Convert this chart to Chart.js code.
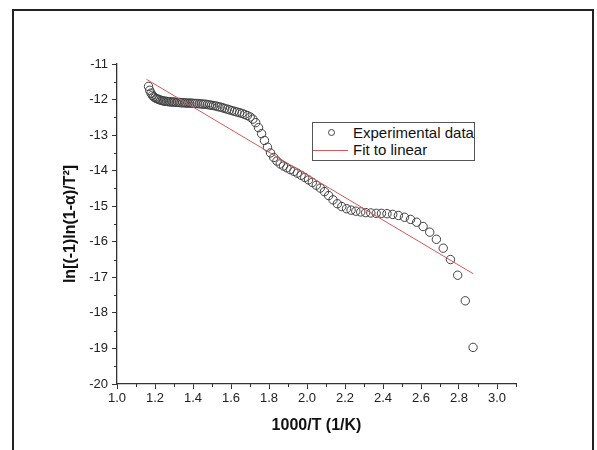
<!DOCTYPE html>
<html>
<head>
<meta charset="utf-8">
<script src="https://cdn.jsdelivr.net/npm/chart.js@4.4.1/dist/chart.umd.min.js"></script>
<style>
    body { margin: 0; background: #fff; }
    #wrap { position: relative; width: 597px; height: 450px; overflow: hidden; }
    #frame { position: absolute; left: 12px; top: 9px; width: 582px; height: 460px; border: 2px solid #222; box-sizing: border-box; pointer-events: none; }
    #legend { position: absolute; left: 312px; top: 122px; width: 163px; height: 39px; border: 1px solid #555; box-sizing: border-box; background: #fff;
              font: 15px "Liberation Sans", Arial, sans-serif; color: #111; }
    #legend .txt { position: absolute; left: 40px; line-height: 17px; white-space: nowrap; }
    #legend .dot { position: absolute; left: 15px; top: 6px; width: 7px; height: 7px; border: 1px solid #444; border-radius: 50%; box-sizing: border-box; }
    #legend .ln { position: absolute; left: 0; top: 27px; width: 35px; height: 1px; background: rgb(210, 90, 90); }
</style>
</head>
<body>
<div id="wrap">
    <canvas id="chart" width="597" height="450"></canvas>
    <div id="frame"></div>
    <div id="legend">
        <span class="dot"></span><span class="txt" style="top:1px">Experimental data</span>
        <span class="ln"></span><span class="txt" style="top:18px">Fit to linear</span>
    </div>
</div>
<script>
// 1000/T values (1/K)
var expX = [
    1.166, 1.172, 1.179, 1.186, 1.193, 1.200, 1.208, 1.215, 1.222, 1.230,
    1.238, 1.245, 1.253, 1.261, 1.269, 1.277, 1.285, 1.294, 1.302, 1.311,
    1.319, 1.328, 1.337, 1.346, 1.355, 1.364, 1.374, 1.383, 1.393, 1.403,
    1.412, 1.422, 1.433, 1.443, 1.453, 1.464, 1.475, 1.486, 1.497, 1.508,
    1.520, 1.531, 1.543, 1.555, 1.567, 1.580, 1.592, 1.605, 1.618, 1.631,
    1.645, 1.658, 1.672, 1.686, 1.701, 1.715, 1.730, 1.745, 1.761, 1.776,
    1.792, 1.808, 1.825, 1.842, 1.859, 1.876, 1.894, 1.912, 1.931, 1.949,
    1.969, 1.988, 2.008, 2.028, 2.049, 2.070, 2.092, 2.114, 2.137, 2.160,
    2.183, 2.208, 2.232, 2.257, 2.283, 2.309, 2.336, 2.364, 2.392, 2.421,
    2.451, 2.481, 2.513, 2.545, 2.577, 2.611, 2.646, 2.681, 2.717, 2.755,
    2.793, 2.833, 2.874
];
var expY = [
    -11.63, -11.74, -11.82, -11.88, -11.92, -11.95, -11.97, -11.99, -12.00, -12.02,
    -12.03, -12.04, -12.05, -12.05, -12.06, -12.06, -12.07, -12.07, -12.07, -12.08,
    -12.08, -12.08, -12.09, -12.09, -12.09, -12.10, -12.10, -12.10, -12.10, -12.11,
    -12.11, -12.11, -12.12, -12.12, -12.13, -12.13, -12.14, -12.15, -12.16, -12.17,
    -12.18, -12.20, -12.21, -12.23, -12.25, -12.27, -12.29, -12.31, -12.33, -12.35,
    -12.37, -12.39, -12.42, -12.45, -12.49, -12.55, -12.65, -12.79, -12.96, -13.15,
    -13.34, -13.50, -13.63, -13.73, -13.81, -13.87, -13.92, -13.97, -14.02, -14.07,
    -14.13, -14.19, -14.26, -14.33, -14.41, -14.49, -14.59, -14.70, -14.82, -14.93,
    -15.01, -15.07, -15.11, -15.14, -15.16, -15.18, -15.19, -15.20, -15.20, -15.21,
    -15.23, -15.26, -15.31, -15.37, -15.45, -15.57, -15.73, -15.93, -16.18, -16.50,
    -16.94, -17.66, -18.97
];

// linear fit end points
var fitX = [1.155, 2.875];
var fitY = [-11.43, -16.90];

var xMinorTicks = [1.1, 1.3, 1.5, 1.7, 1.9, 2.1, 2.3, 2.5, 2.7, 2.9, 3.1];
var yMinorTicks = [-19.5, -18.5, -17.5, -16.5, -15.5, -14.5, -13.5, -12.5, -11.5];

var FONT = '"Liberation Sans", Arial, sans-serif';
var AXIS_COLOR = '#333';

function toPoints(xs, ys) {
    return xs.map(function (x, i) { return { x: x, y: ys[i] }; });
}

// minor ticks, Chart.js has none of its own
var minorTicks = {
    id: 'minorTicks',
    afterDraw: function (chart) {
        var ctx = chart.ctx;
        var xs = chart.scales.x;
        var ys = chart.scales.y;
        ctx.save();
        ctx.strokeStyle = AXIS_COLOR;
        ctx.lineWidth = 1;
        ctx.beginPath();
        xMinorTicks.forEach(function (v) {
            var px = Math.round(xs.getPixelForValue(v)) + 0.5;
            ctx.moveTo(px, ys.bottom);
            ctx.lineTo(px, ys.bottom + 3);
        });
        yMinorTicks.forEach(function (v) {
            var py = Math.round(ys.getPixelForValue(v)) + 0.5;
            ctx.moveTo(xs.left, py);
            ctx.lineTo(xs.left - 3, py);
        });
        ctx.stroke();
        ctx.restore();
    }
};

new Chart(document.getElementById('chart'), {
    type: 'scatter',
    data: {
        datasets: [{
            label: 'Experimental data',
            data: toPoints(expX, expY),
            pointStyle: 'circle',
            pointRadius: 4.2,
            borderWidth: 1,
            borderColor: '#404040',
            backgroundColor: 'rgba(0,0,0,0)',
            order: 2
        }, {
            label: 'Fit to linear',
            data: toPoints(fitX, fitY),
            showLine: true,
            pointRadius: 0,
            borderWidth: 1,
            borderColor: 'rgb(210, 90, 90)',
            order: 1
        }]
    },
    options: {
        responsive: false,
        animation: false,
        devicePixelRatio: 1,
        layout: { padding: { left: 20, right: 81, top: 64, bottom: 10 } },
        plugins: {
            legend: { display: false },
            tooltip: { enabled: false }
        },
        scales: {
            x: {
                type: 'linear',
                min: 1.0,
                max: 3.1,
                afterFit: function (scale) { scale.height = 56; },
                border: { color: AXIS_COLOR, width: 1.3 },
                grid: { drawOnChartArea: false, drawTicks: true, tickLength: 5, color: AXIS_COLOR },
                ticks: {
                    stepSize: 0.2,
                    includeBounds: false,
                    padding: 2,
                    color: '#222',
                    font: { family: FONT, size: 13 },
                    callback: function (v) { return v.toFixed(1); }
                },
                title: {
                    display: true,
                    text: '1000/T (1/K)',
                    color: '#111',
                    font: { family: FONT, size: 16, weight: 'bold' },
                    padding: { top: 0, bottom: 5 }
                }
            },
            y: {
                type: 'linear',
                min: -20,
                max: -11,
                afterFit: function (scale) { scale.width = 97; },
                border: { color: AXIS_COLOR, width: 1.3 },
                grid: { drawOnChartArea: false, drawTicks: true, tickLength: 5, color: AXIS_COLOR },
                ticks: {
                    stepSize: 1,
                    padding: 4,
                    color: '#222',
                    font: { family: FONT, size: 13 },
                    callback: function (v) { return String(v); }
                },
                title: {
                    display: true,
                    text: 'ln[(-1)ln(1-\u03b1)/T\u00b2]',
                    color: '#111',
                    font: { family: FONT, size: 16, weight: 'bold' },
                    padding: { top: 41, bottom: 0 }
                }
            }
        }
    },
    plugins: [minorTicks]
});
</script>
</body>
</html>
